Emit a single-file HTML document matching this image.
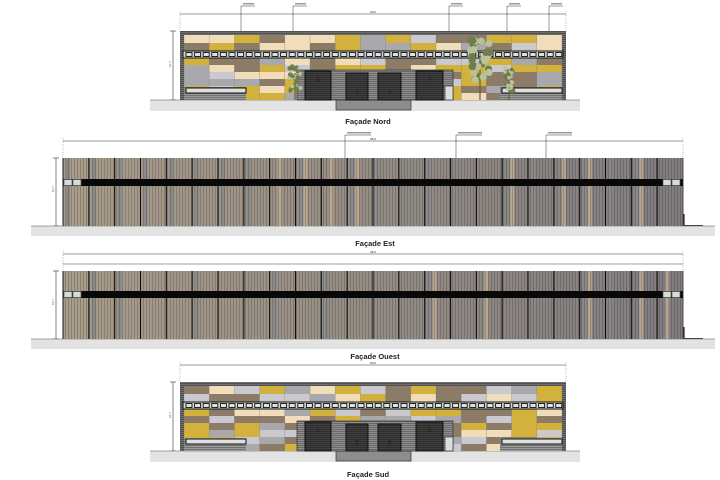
<!DOCTYPE html>
<html><head><meta charset="utf-8"><style>
body{margin:0;background:#fff;width:720px;height:480px;overflow:hidden}
svg{display:block}
text{font-family:"Liberation Sans",sans-serif}
</style></head><body>
<svg id="s" width="720" height="480" xmlns="http://www.w3.org/2000/svg">
<defs>
<pattern id="vs" width="3" height="10" patternUnits="userSpaceOnUse">
<rect width="3" height="10" fill="none"/><rect x="2" width="1" height="10" fill="#000" opacity="0.18"/>
</pattern>
<pattern id="hs" width="10" height="2" patternUnits="userSpaceOnUse">
<rect y="1" width="10" height="1" fill="#000" opacity="0.25"/>
</pattern>
</defs>
</svg>
<script>
var s=document.getElementById('s'),h='';
function R(x,y,w,hh,f,st,sw){h+='<rect x="'+x+'" y="'+y+'" width="'+w+'" height="'+hh+'" fill="'+f+'"'+(st?' stroke="'+st+'" stroke-width="'+(sw||0.7)+'"':'')+'/>';}
function L(x1,y1,x2,y2,c,w,d){h+='<line x1="'+x1+'" y1="'+y1+'" x2="'+x2+'" y2="'+y2+'" stroke="'+(c||'#333')+'" stroke-width="'+(w||0.6)+'"'+(d?' stroke-dasharray="'+d+'"':'')+'/>';}
function T(x,y,t,sz,b){h+='<text x="'+x+'" y="'+y+'" font-size="'+sz+'" text-anchor="middle"'+(b?' font-weight="bold"':'')+' fill="#222">'+t+'</text>';}
var seed=7;function rnd(){seed=(seed*9301+49297)%233280;return seed/233280;}
var cols=['#d2b13c','#8b7b67','#c9c9cf','#f1ddb9','#d2b13c','#8b7b67','#a9a9ad'];
function color(y0,name,tagx){
  var x0=180,x1=566,b=y0+69;
  L(x0,y0-17,x1,y0-17,'#333',0.6);L(x0,y0-20,x0,y0,'#666',0.4,'1,1');L(x1,y0-20,x1,y0,'#666',0.4,'1,1');
  T(373,y0-18,'60,0',3);
  L(173,y0,173,b,'#333',0.6);L(170,y0,176,y0);L(170,b,176,b);
  h+='<text x="171" y="'+(y0+36)+'" font-size="3" transform="rotate(-90 171 '+(y0+36)+')" fill="#555">10,7</text>';
  tagx.forEach(function(t){L(t,y0+10,t,y0-25,'#333',0.5);L(t,y0-25,t+14,y0-25,'#333',0.5);R(t+2,y0-28,11,1.5,'#999');});
  R(150,b,430,11,'#e3e3e3');L(150,b,580,b,'#555',0.6);
  R(336,b,75,10,'#8d8d8d','#333');
  var cw=(x1-x0-8)/15,rows=[[y0+4,8],[y0+12,8],[y0+27,7],[y0+34,7],[y0+41,7],[y0+48,7],[y0+55,7],[y0+62,7]];
  rows.forEach(function(r){for(var i=0;i<15;i++){R((x0+4+i*cw).toFixed(1),r[0],(cw+0.3).toFixed(1),r[1],cols[Math.floor(rnd()*cols.length)]);}});
  for(var i=0;i<=15;i++)L(x0+4+i*cw,y0+4,x0+4+i*cw,b,'#777',0.3);
  R(x0,y0,x1-x0,4,'#6d6d6d');R(x0,y0,x1-x0,4,'url(#hs)');
  R(x0,y0,4,69,'#6d6d6d');R(x1-4,y0,4,69,'#6d6d6d');R(x0,y0,4,69,'url(#hs)');R(x1-4,y0,4,69,'url(#hs)');
  R(x0+3,y0+20,x1-x0-6,7,'#cfd3cf','#111',1);
  for(var k=0;k<44;k++){var wx=x0+6+k*8.6;R(wx.toFixed(1),y0+21.5,6,4,'#dfe3df','#111',0.9);}
  R(x0+4,y0+56,62,13,'#9a9a9a');R(x0+4,y0+56,62,13,'url(#hs)');R(x0+6,y0+57,60,5,'#dde0dd','#111',1);
  R(x1-66,y0+56,62,13,'#9a9a9a');R(x1-66,y0+56,62,13,'url(#hs)');R(x1-64,y0+57,60,5,'#dde0dd','#111',1);
  R(297,y0+39,156,30,'#8e8e8e','#333');R(297,y0+39,156,30,'url(#hs)');
  [[305,26,40,'1'],[346,22,42,'2'],[378,23,42,'3'],[416,27,40,'4']].forEach(function(d){
    R(d[0],y0+d[2],d[1],69-d[2],'#3e3e3e','#111',1);R(d[0],y0+d[2],d[1],69-d[2],'url(#hs)');
    T(d[0]+d[1]/2,y0+(d[3]=='1'||d[3]=='4'?50:63),d[3],7);
  });
  R(445,y0+55,8,14,'#ddd','#333');
}
function stripe(y0,top,band,bot,name,dimy,tags){
  var x0=63,x1=683;
  L(x0,dimy,x1,dimy,'#333',0.6);L(x0,dimy-3,x0,top,'#666',0.4,'1,1');L(x1,dimy-3,x1,top,'#666',0.4,'1,1');
  T(373,dimy-1,'96,0',3);
  if(tags)tags.forEach(function(t){L(t,top+8,t,dimy-6,'#333',0.5);L(t,dimy-6,t+26,dimy-6,'#333',0.5);R(t+2,dimy-9,24,1.5,'#999');});
  else{L(x0,dimy+10,x1,dimy+10,'#444',0.6);}
  L(56,top,56,bot,'#333',0.6);L(53,top,59,top);L(53,bot,59,bot);
  h+='<text x="54" y="'+((top+bot)/2)+'" font-size="3" transform="rotate(-90 54 '+((top+bot)/2)+')" fill="#555">10,7</text>';
  R(31,bot,684,10,'#e3e3e3');L(31,bot,715,bot,'#555',0.6);
  var n=24,cw=(x1-x0)/n;
  for(var i=0;i<n;i++){var t=i/n,bx=x0+i*cw;
    var r=Math.round(168-40*t),g=Math.round(156-32*t),bb=Math.round(138-10*t);
    R(bx.toFixed(1),top,(cw+0.3).toFixed(1),bot-top,'rgb('+r+','+g+','+bb+')');
    if(rnd()<0.5)R((bx+3).toFixed(1),top,4,bot-top,'#8a8a8a');
    if(t>0.3&&rnd()<0.4)R((bx+8).toFixed(1),top,4,bot-top,'#b8a890');
    L(bx,top,bx,bot,'#111',1.1);}
  R(x0,top,x1-x0,bot-top,'url(#vs)');
  R(x0,band,x1-x0,7,'#080808');
  R(x0+1,band+0.5,8,6,'#d6dcd6','#555');R(x0+10,band+0.5,8,6,'#d6dcd6','#555');
  R(x1-20,band+0.5,8,6,'#d6dcd6','#555');R(x1-11,band+0.5,8,6,'#d6dcd6','#555');
  L(x1,top,x1,bot,'#333',0.8);L(x0,top,x0,bot,'#333',0.8);
  L(x1+1,bot-12,x1+1,bot,'#222',1.2);L(x1,bot-0.5,x1+20,bot-0.5,'#444',1);
}
color(31,'Nord',[241,293,449,507,549]);
T(368,124,'Façade Nord',7.5,true);
stripe(157,158,179,226,'Est',141,[345,456,546]);
T(375,246,'Façade Est',7.5,true);
stripe(271,271,291,339,'Ouest',254,null);
T(375,359,'Façade Ouest',7.5,true);
color(382,'Sud',[]);
T(368,477,'Façade Sud',7.5,true);
function tree(cx,cy,r,top){L(cx,top+r,cx,100,'#6a5a45',1.2);for(var i=0;i<30;i++){var yy=top+rnd()*(cy-top+r);h+='<circle cx="'+(cx+(rnd()-0.5)*r*1.6).toFixed(1)+'" cy="'+yy.toFixed(1)+'" r="'+(r*0.3).toFixed(1)+'" fill="'+(rnd()<0.55?'#6f7d4a':'#b9c29a')+'"/>';}}
tree(295,85,7,66);tree(480,70,12,40);tree(509,86,6,68);
s.innerHTML+=h;
</script>
</body></html>
